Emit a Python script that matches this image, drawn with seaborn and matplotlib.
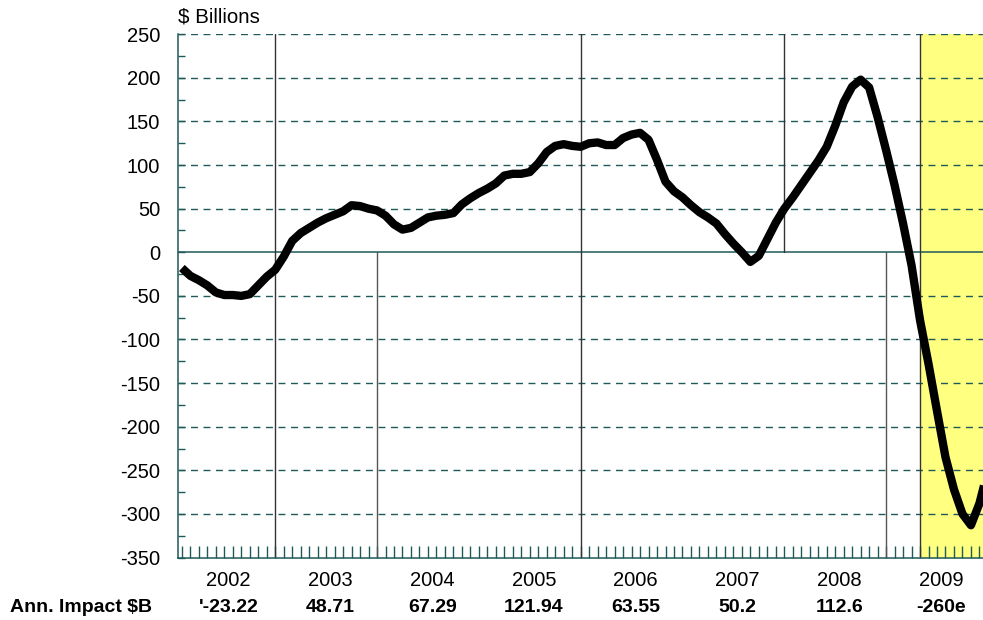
import pandas as pd
import matplotlib.pyplot as plt
from matplotlib import transforms
import seaborn as sns

# monthly values, index 0 = Jan 2002
month_index = list(range(96))
impact = [
    -18, -27, -32, -38, -46, -49, -49, -50, -48, -38, -28, -20,
    -5, 13, 22, 28, 34, 39, 43, 47, 54, 53, 50, 48,
    42, 32, 26, 28, 34, 40, 42, 43, 45, 55, 62, 68,
    73, 79, 88, 90, 90, 92, 102, 115, 122, 124, 122, 121,
    125, 126, 123, 123, 131, 135, 137, 129, 106, 81, 70, 63,
    54, 46, 40, 33, 21, 10, 0, -11, -4, 15, 34, 50,
    63, 77, 91, 105, 121, 145, 172, 190, 198, 189, 155, 117,
    77, 33, -15, -78, -128, -182, -235, -272, -300, -313, -288, -250,
]

years = ["2002", "2003", "2004", "2005", "2006", "2007", "2008", "2009"]
annual_impact = ["'-23.22", "48.71", "67.29", "121.94", "63.55", "50.2", "112.6", "-260e"]

# vertical markers (month index)
full_lines = [11, 47, 87]
upper_lines = [71]
lower_lines = [23, 83]
shade_start = 87

teal = "#1f5959"

sns.set_style("white")
plt.rcParams["font.family"] = ["Liberation Sans", "DejaVu Sans"]
plt.rcParams["axes.unicode_minus"] = False
plt.rcParams["text.color"] = "black"
plt.rcParams["xtick.color"] = "black"
plt.rcParams["ytick.color"] = "black"

df = pd.DataFrame({"month": month_index, "impact": impact})

fig = plt.figure(figsize=(9.83, 6.2), dpi=100)
ax = fig.add_axes([0.1814, 0.1008, 0.8186, 0.8439])

ax.axvspan(shade_start, 120, color="#ffff80", lw=0, zorder=0)

# horizontal grid
for v in range(-300, 251, 50):
    if v == 0:
        continue
    ax.axhline(v, color=teal, lw=1, ls=(0, (5, 4)), zorder=1)
ax.axhline(0, color=teal, lw=1.1, zorder=1.5)

zero_frac = 350 / 600
for m in full_lines:
    ax.axvline(m, color="#333333", lw=1, zorder=2)
for m in upper_lines:
    ax.axvline(m, ymin=zero_frac, ymax=1, color="#333333", lw=1, zorder=2)
for m in lower_lines:
    ax.axvline(m, ymin=0, ymax=zero_frac, color="#555555", lw=1, zorder=2)

sns.lineplot(data=df, x="month", y="impact", color="black", linewidth=6,
             solid_joinstyle="round", solid_capstyle="butt", ax=ax, zorder=3)

ax.set_xlim(-0.42, 94.42)
ax.set_ylim(-350, 250)
ax.set_xlabel("")
ax.set_ylabel("")

ax.set_xticks(range(0, 95))
ax.set_xticklabels([])
ax.tick_params(axis="x", which="major", bottom=True, direction="in",
               length=8.6, width=1, color=teal)

ax.set_yticks(range(-350, 251, 50))
ax.set_yticks(range(-325, 250, 50), minor=True)
ax.tick_params(axis="y", which="major", left=True, direction="in", length=5,
               width=1, color=teal, labelsize=14.5, labelcolor="black", pad=13)
ax.tick_params(axis="y", which="minor", left=True, direction="in", length=5,
               width=1, color=teal)

for side in ["top", "right"]:
    ax.spines[side].set_visible(False)
for side in ["left", "bottom"]:
    ax.spines[side].set_color(teal)
    ax.spines[side].set_linewidth(1.1)

fig.text(178 / 983, 1 - 17.5 / 620, "$ Billions", fontsize=14.8, ha="left", va="center")

trans = transforms.blended_transform_factory(ax.transData, fig.transFigure)
for i, (yr, val) in enumerate(zip(years, annual_impact)):
    xc = 5.5 + 12 * i
    ax.text(xc, 1 - 581 / 620, yr, transform=trans, fontsize=14.5,
            ha="center", va="center", clip_on=False)
    ax.text(xc, 1 - 608 / 620, val, transform=trans, fontsize=14,
            fontweight="bold", ha="center", va="center", clip_on=False)

fig.text(152 / 983, 1 - 608 / 620, "Ann. Impact $B", fontsize=14,
         fontweight="bold", ha="right", va="center")

fig.savefig("out.png", dpi=100)
